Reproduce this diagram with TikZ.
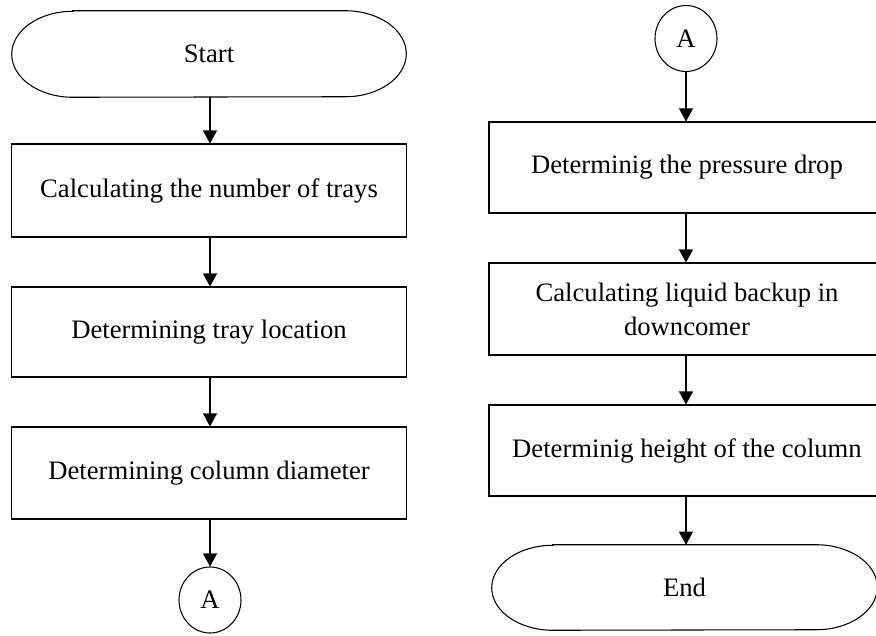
\documentclass[tikz,border=0pt]{standalone}
\usepackage{fontspec}
\setmainfont{Liberation Serif}
\usetikzlibrary{arrows.meta,shapes.geometric}
\tikzset{
  every node/.style={font=\fontsize{20}{25.5}\selectfont},
  stepbox/.style={draw, line width=0.8pt, rectangle, minimum width=296.25pt, minimum height=69pt, align=center, inner sep=0pt},
  termbox/.style={rectangle, minimum height=64.5pt, inner sep=0pt},
  conn/.style={draw, line width=0.8pt, ellipse, minimum width=46.5pt, minimum height=49.5pt, inner sep=0pt},
  arr/.style={line width=0.8pt, -{Triangle[length=9.75pt,width=10.5pt]}},
  termline/.style={line width=0.8pt}
}
\begin{document}
\begin{tikzpicture}[x=0.75pt,y=-0.75pt]
\useasboundingbox (0,0) rectangle (876,636);
% left column
\node[termbox, minimum width=295.5pt] (start) at (209,54) {Start};
\draw[termline] ([xshift=45.75pt]start.north west) -- ([xshift=-45.75pt]start.north east)
  arc[start angle=90,end angle=-90,x radius=45.75pt,y radius=32.25pt]
  -- ([xshift=45.75pt]start.south west)
  arc[start angle=270,end angle=90,x radius=45.75pt,y radius=32.25pt] -- cycle;
\node[stepbox, minimum height=69.75pt] (b1) at (209,190.5) {Calculating the number of trays};
\node[stepbox, minimum height=67.5pt] (b2) at (209,332) {Determining tray location};
\node[stepbox] (b3) at (209,473) {Determining column diameter};
\node[conn] (ca) at (210,600) {A};
\draw[arr] (start.south -| ca.north) -- (b1.north -| ca.north);
\draw[arr] (b1.south -| ca.north) -- (b2.north -| ca.north);
\draw[arr] (b2.south -| ca.north) -- (b3.north -| ca.north);
\draw[arr] (b3.south -| ca.north) -- (ca.north);
% right column
\node[conn] (cb) at (686,38.5) {A};
\node[stepbox, minimum width=297pt, minimum height=68.25pt] (r1) at (687,167.5) {Determinig the pressure drop};
\node[stepbox, minimum width=297pt] (r2) at (687,309) {Calculating liquid backup in\\downcomer};
\node[stepbox, minimum width=297pt, minimum height=68.25pt] (r3) at (687,450.5) {Determinig height of the column};
\node[termbox, minimum width=288.75pt, minimum height=63.75pt] (end) at (684.5,587.5) {End};
\draw[termline] ([xshift=45.75pt]end.north west) -- ([xshift=-45.75pt]end.north east)
  arc[start angle=90,end angle=-90,x radius=45.75pt,y radius=31.875pt]
  -- ([xshift=45.75pt]end.south west)
  arc[start angle=270,end angle=90,x radius=45.75pt,y radius=31.875pt] -- cycle;
\draw[arr] (cb.south) -- (r1.north -| cb.south);
\draw[arr] (r1.south -| cb.south) -- (r2.north -| cb.south);
\draw[arr] (r2.south -| cb.south) -- (r3.north -| cb.south);
\draw[arr] (r3.south -| cb.south) -- (end.north -| cb.south);
\end{tikzpicture}
\end{document}
